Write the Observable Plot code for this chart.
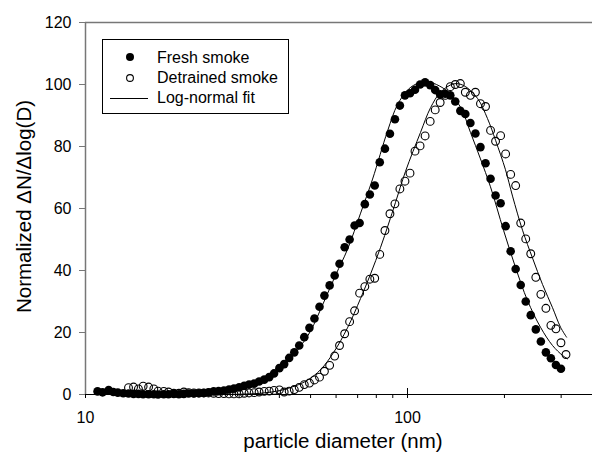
<!DOCTYPE html>
<html><head><meta charset="utf-8">
<script src="https://cdn.jsdelivr.net/npm/d3@7"></script>
<script src="https://cdn.jsdelivr.net/npm/@observablehq/plot@0.6"></script>
<style>body{margin:0;background:#fff} svg{display:block}</style>
</head><body><div id="chart"></div>
<script>
// particle diameters (nm), SMPS channels
const diameters = [10.9, 11.3, 11.8, 12.2, 12.6, 13.1, 13.6, 14.1, 14.6, 15.1,
  15.7, 16.3, 16.8, 17.5, 18.1, 18.8, 19.5, 20.2, 20.9, 21.7,
  22.5, 23.3, 24.1, 25.0, 25.9, 26.9, 27.9, 28.9, 30.0, 31.1,
  32.2, 33.4, 34.6, 35.9, 37.2, 38.5, 40.0, 41.4, 42.9, 44.5,
  46.1, 47.8, 49.6, 51.4, 53.3, 55.2, 57.3, 59.4, 61.5, 63.8,
  66.1, 68.5, 71.0, 73.7, 76.4, 79.1, 82.0, 85.1, 88.2, 91.4,
  94.7, 98.2, 101.8, 105.5, 109.4, 113.4, 117.6, 121.9, 126.3, 131.0,
  135.8, 140.7, 145.9, 151.2, 156.8, 162.5, 168.5, 174.7, 181.1, 187.7,
  194.6, 201.7, 209.1, 216.7, 224.7, 232.9, 241.4, 250.3, 259.5, 269.0,
  278.8, 289.0, 299.6, 310.6];

// Fresh smoke (filled circles)
const freshSmoke = [1.0, 0.7, 1.4, 0.8, 0.6, 0.4, 0.3, 0.2, 0.2, 0.1,
  0.1, 0.1, 0.0, 0.1, 0.1, 0.2, 0.1, 0.2, 0.3, 0.3,
  0.4, 0.5, 0.7, 1.0, 1.1, 1.3, 1.6, 1.9, 2.3, 2.8,
  3.2, 3.5, 4.2, 4.8, 5.6, 6.8, 8.5, 9.8, 11.8, 13.6,
  15.8, 18.5, 21.5, 24.5, 28.3, 31.9, 35.2, 38.4, 42.2, 47.5,
  50.0, 54.5, 55.3, 61.4, 64.5, 67.4, 74.9, 79.3, 84.1, 88.8,
  93.2, 96.5, 97.2, 98.3, 100.0, 100.7, 99.8, 98.2, 96.8, 97.0,
  96.5, 94.5, 91.5, 90.5, 87.6, 84.2, 79.8, 74.6, 69.6, 64.2,
  61.7, 54.3, 46.2, 40.5, 35.3, 30.0, 25.6, 21.0, 17.1, 13.6,
  11.7, 9.5, 8.3, null];

// Detrained smoke (open circles)
const detrainedSmoke = [null, null, null, null, null, null, 2.2, 2.4, 1.8, 2.7,
  2.4, 1.8, 1.1, 1.0, 0.8, 0.4, 0.4, 0.8, 0.6, 0.5,
  0.5, 0.5, 0.5, 0.4, 0.3, 0.3, 0.2, 0.2, 0.2, 0.4,
  0.5, 0.6, 0.8, 1.0, 1.1, 1.3, 1.5, 0.8, 1.1, 1.6,
  2.3, 3.2, 3.7, 4.7, 5.6, 7.5, 9.4, 12.4, 15.8, 19.6,
  23.5, 27.0, 32.7, 34.8, 37.2, 37.5, 45.2, 52.9, 58.3, 61.5,
  66.3, 68.8, 71.4, 78.5, 80.2, 83.4, 88.1, 91.8, 94.2, 96.5,
  99.3, 100.0, 100.3, 97.5, 96.5, 97.5, 93.8, 92.9, 85.2, 81.7,
  83.5, 77.6, 71.0, 67.4, 55.3, 50.2, 45.4, 37.8, 32.3, 27.8,
  22.3, 21.2, 16.7, 12.9];

// Log-normal fit curves
const fitFreshD = [10.9, 13.8, 17.1, 21.2, 25.3, 29.2, 33.7, 37.5, 40.3, 43.3, 46.5, 50.0, 54.8, 59.8, 65.1, 71.5, 77.9, 86.7, 93.1, 100.7, 108.2, 115.4, 123.0, 133.1, 146.1, 156.9, 168.5, 181.0, 198.7, 216.5, 235.9, 258.8, 282.1, 303.0, 314.0];
const fitFreshN = [0, 0, 0.1, 0.4, 1.0, 2.0, 3.8, 6.3, 8.5, 11.5, 15.5, 20.5, 29.5, 38.5, 46.8, 58.5, 69.5, 85.0, 93.5, 98.5, 100.5, 101.0, 100.0, 97.8, 92.7, 84.5, 76.0, 67.0, 53.0, 41.0, 30.3, 21.7, 15.8, 12.6, 11.5];
const fitDetrainedD = [10.9, 15.9, 22.8, 30.3, 35.0, 40.3, 44.9, 48.9, 53.7, 58.9, 65.1, 71.5, 76.8, 82.5, 87.3, 91.8, 98.6, 109.7, 117.9, 126.6, 139.0, 149.2, 165.0, 177.2, 187.7, 201.5, 211.9, 227.6, 244.5, 262.6, 282.1, 298.7, 311.8];
const fitDetrainedN = [0, 0, 0, 0.1, 0.4, 1.3, 2.8, 4.6, 8.0, 13.5, 21.5, 31.0, 38.9, 47.5, 55.0, 62.0, 72.0, 84.5, 92.5, 97.5, 100.2, 99.7, 95.5, 89.0, 82.0, 72.5, 64.0, 53.0, 44.0, 35.5, 28.0, 21.7, 18.5];

const yTicks = [0, 20, 40, 60, 80, 100, 120];
const xMajorTicks = [10, 100];
const xMinorTicks = [20, 30, 40, 50, 60, 70, 80, 90, 200, 300];
const legendLabels = ["Fresh smoke", "Detrained smoke", "Log-normal fit"];
const xTitle = "particle diameter (nm)";
const yTitle = "Normalized \u0394N/\u0394log(D)";

const fresh = diameters.map((d, i) => ({d, n: freshSmoke[i]})).filter(p => p.n != null);
const detrained = diameters.map((d, i) => ({d, n: detrainedSmoke[i]})).filter(p => p.n != null);
const fitFresh = fitFreshD.map((d, i) => ({d, n: fitFreshN[i]}));
const fitDetrained = fitDetrainedD.map((d, i) => ({d, n: fitDetrainedN[i]}));

const font = "Arial, 'Liberation Sans', sans-serif";
const axisGray = "#777";

const chart = Plot.plot({
  width: 592, height: 458,
  marginLeft: 85, marginRight: 0, marginTop: 22, marginBottom: 64,
  style: {fontFamily: font, background: "white", color: "black", overflow: "visible"},
  x: {type: "log", domain: [10, 375.4]},
  y: {domain: [0, 120]},
  marks: [
    Plot.ruleY([120], {stroke: axisGray, strokeWidth: 1.5}),
    Plot.ruleX([10], {stroke: axisGray, strokeWidth: 1.5}),
    Plot.axisY({ticks: yTicks, tickSize: 6, tickPadding: 8, fontSize: 16, stroke: axisGray, fill: "black", label: null}),
    Plot.axisX({ticks: xMajorTicks, tickSize: 4, tickPadding: 13, fontSize: 16, tickFormat: d => String(d), label: null}),
    Plot.axisX({ticks: xMinorTicks, tickSize: 4, tickFormat: () => "", label: null}),
    Plot.axisX({ticks: [100], tickSize: -6, tickFormat: () => "", label: null}),
    Plot.ruleY([0], {stroke: "black", strokeWidth: 1.2}),
    Plot.text([yTitle], {frameAnchor: "left", textAnchor: "middle", rotate: -90, dx: -61, dy: -2, fontSize: 20.5, fill: "black"}),
    Plot.text([xTitle], {frameAnchor: "bottom", textAnchor: "middle", dx: 4, dy: 53, fontSize: 20.5, fill: "black"}),
    Plot.line(fitFresh, {x: "d", y: "n", curve: "catmull-rom", stroke: "black", strokeWidth: 1}),
    Plot.line(fitDetrained, {x: "d", y: "n", curve: "catmull-rom", stroke: "black", strokeWidth: 1}),
    Plot.dot(detrained, {x: "d", y: "n", r: 3.9, stroke: "black", fill: "none", strokeWidth: 1.1}),
    Plot.dot(fresh, {x: "d", y: "n", r: 4.3, fill: "black", stroke: "none"})
  ]
});
document.getElementById("chart").appendChild(chart);

// Legend box
const svg = d3.select(chart);
const lg = svg.append("g").attr("font-family", font).attr("font-size", 16).attr("fill", "black").attr("text-anchor", "start");
lg.append("rect").attr("x", 102.5).attr("y", 39.5).attr("width", 186).attr("height", 74)
  .attr("fill", "white").attr("stroke", "black").attr("stroke-width", 1);
lg.append("circle").attr("cx", 130).attr("cy", 57).attr("r", 4).attr("fill", "black");
lg.append("circle").attr("cx", 130).attr("cy", 78).attr("r", 3.4).attr("fill", "none").attr("stroke", "black").attr("stroke-width", 1.1);
lg.append("line").attr("x1", 110).attr("x2", 148).attr("y1", 98.5).attr("y2", 98.5).attr("stroke", "black").attr("stroke-width", 1);
const baselines = [62.7, 83, 103];
legendLabels.forEach((t, i) => lg.append("text").attr("x", 157).attr("y", baselines[i]).attr("text-anchor", "start").text(t));
</script>
</body></html>
